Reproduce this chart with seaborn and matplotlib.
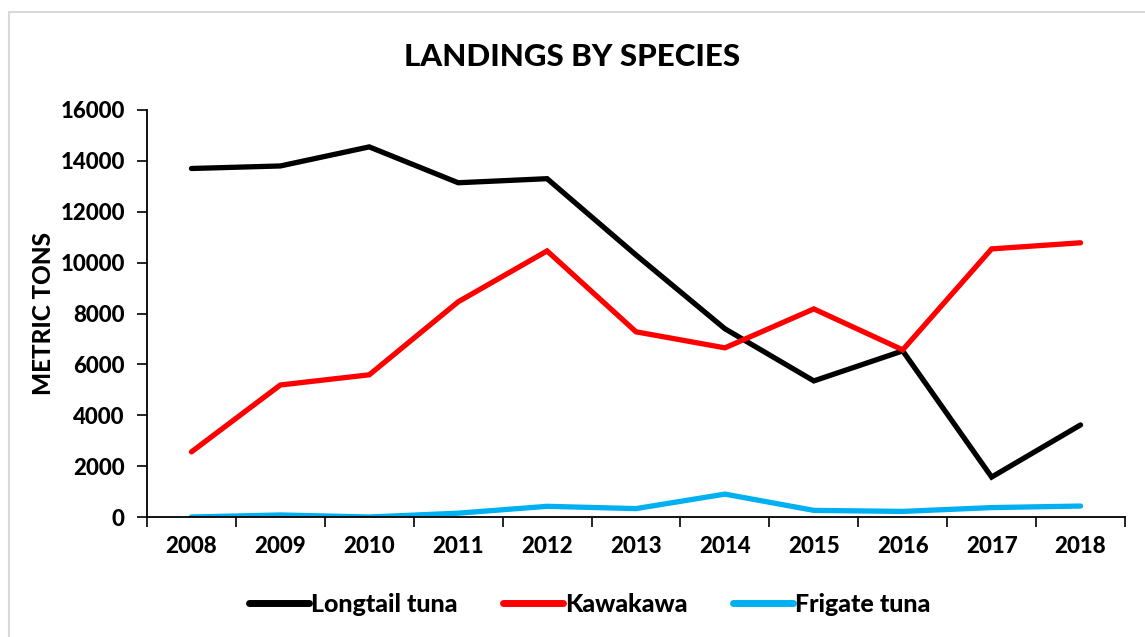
import matplotlib
matplotlib.use("Agg")
import matplotlib.pyplot as plt
from matplotlib.lines import Line2D
from matplotlib.ticker import FixedLocator, NullFormatter
import seaborn as sns
import pandas as pd

years = ["2008", "2009", "2010", "2011", "2012", "2013", "2014", "2015", "2016", "2017", "2018"]
longtail_tuna = [13700, 13800, 14550, 13140, 13300, 10300, 7400, 5350, 6530, 1570, 3620]
kawakawa = [2560, 5190, 5590, 8460, 10460, 7280, 6650, 8180, 6570, 10540, 10780]
frigate_tuna = [0, 80, 0, 150, 420, 330, 900, 260, 220, 370, 430]
species = ["Longtail tuna", "Kawakawa", "Frigate tuna"]
colors = ["#000000", "#FF0000", "#00B0F0"]
y_ticks = [0, 2000, 4000, 6000, 8000, 10000, 12000, 14000, 16000]

sns.set_theme(style="white")
plt.rcParams["font.family"] = ["Lato", "DejaVu Sans"]
plt.rcParams.update({"text.color": "black", "axes.labelcolor": "black",
                     "xtick.color": "black", "ytick.color": "black"})
W = "black"

rows = []
for name, vals in zip(species, [longtail_tuna, kawakawa, frigate_tuna]):
    for i, v in enumerate(vals):
        rows.append({"pos": i, "year": years[i], "tons": v, "species": name})
df = pd.DataFrame(rows)

fig = plt.figure(figsize=(11.45, 6.37), dpi=100)
ax = fig.add_axes([147 / 1145, (637 - 517) / 637, (1125 - 147) / 1145, (517 - 110) / 637])

sns.lineplot(data=df, x="pos", y="tons", hue="species", hue_order=species,
             palette=colors, linewidth=3.8, ax=ax, legend=False,
             solid_capstyle="round", solid_joinstyle="miter")

ax.set_xlim(-0.5, len(years) - 0.5)
ax.set_ylim(0, 16000)

# category labels sit between the boundary tick marks
ax.xaxis.set_major_locator(FixedLocator([i - 0.5 for i in range(len(years) + 1)]))
ax.xaxis.set_major_formatter(NullFormatter())
ax.xaxis.set_minor_locator(FixedLocator(list(range(len(years)))))
ax.set_xticklabels(years, minor=True)
ax.tick_params(axis="x", which="major", direction="out", length=7, width=1.2, color="black", bottom=True)
ax.tick_params(axis="x", which="minor", length=0, pad=14, labelsize=16, bottom=True)
for lbl in ax.get_xticklabels(minor=True):
    lbl.set_fontweight(W)

ax.set_yticks(y_ticks)
ax.set_yticklabels([str(v) for v in y_ticks], fontsize=16, fontweight=W)
ax.tick_params(axis="y", direction="out", length=7, width=1.2, color="black", left=True, pad=9)

for s in ["top", "right"]:
    ax.spines[s].set_visible(False)
for s in ["left", "bottom"]:
    ax.spines[s].set_color("black")
    ax.spines[s].set_linewidth(1.3)

ax.set_xlabel("")
ax.set_ylabel("METRIC TONS", fontsize=17.5, fontweight=W, labelpad=4)

fig.text(0.5, 1 - 57 / 637, "LANDINGS BY SPECIES", ha="center", va="center",
         fontsize=22.5, fontweight=W)

handles = [Line2D([0], [0], color=c, linewidth=5, solid_capstyle="round") for c in colors]
leg = fig.legend(handles, species, loc="center", bbox_to_anchor=(0.515, 1 - 604 / 637),
                 ncol=3, frameon=False, handlelength=2.4, handletextpad=0.1,
                 columnspacing=1.8, prop={"size": 18, "weight": W})

# thin grey chart-area border
fig.add_artist(Line2D([8.5 / 1145, 8.5 / 1145], [0, 1 - 11.5 / 637], color="#D9D9D9", linewidth=1.5))
fig.add_artist(Line2D([8.5 / 1145, 1], [1 - 11.5 / 637, 1 - 11.5 / 637], color="#D9D9D9", linewidth=1.5))

fig.savefig("out.png", dpi=100, facecolor="white")
